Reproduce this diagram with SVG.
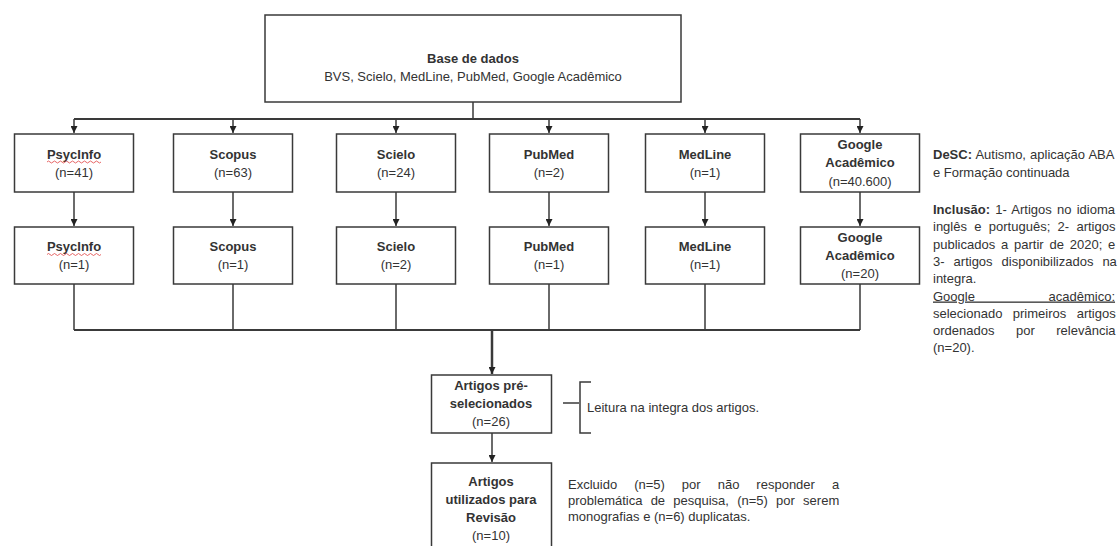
<svg xmlns="http://www.w3.org/2000/svg" width="1118" height="546" viewBox="0 0 1118 546">
<defs>
<marker id="ah" viewBox="0 0 8 8" refX="8" refY="4" markerWidth="7" markerHeight="7" markerUnits="userSpaceOnUse" orient="auto">
<path d="M0,0 L8,4 L0,8 z" fill="#222"/>
</marker>
<style>
.box{fill:#fff;stroke:#3a3a3a;stroke-width:1.5}
.ln{fill:none;stroke:#3a3a3a;stroke-width:1.5}
.t{font-family:"Liberation Sans",Arial,sans-serif;font-size:13px;fill:#333;text-anchor:middle}
.b{font-weight:bold}
.s{font-family:"Liberation Sans",Arial,sans-serif;font-size:13px;fill:#333}
.sq{fill:none;stroke:#e04040;stroke-width:0.8}
</style>
</defs>
<rect width="1118" height="546" fill="#fff"/>

<g id="connectors">
<path class="ln" d="M473,102 V119"/>
<path class="ln" d="M74,119 H860" style="stroke-width:2"/>
<path class="ln" d="M74,119 V133" marker-end="url(#ah)"/>
<path class="ln" d="M233,119 V133" marker-end="url(#ah)"/>
<path class="ln" d="M396,119 V133" marker-end="url(#ah)"/>
<path class="ln" d="M549,119 V133" marker-end="url(#ah)"/>
<path class="ln" d="M705,119 V133" marker-end="url(#ah)"/>
<path class="ln" d="M860,119 V133" marker-end="url(#ah)"/>
<path class="ln" d="M74,192 V226" marker-end="url(#ah)"/>
<path class="ln" d="M233,192 V226" marker-end="url(#ah)"/>
<path class="ln" d="M396,192 V226" marker-end="url(#ah)"/>
<path class="ln" d="M549,192 V226" marker-end="url(#ah)"/>
<path class="ln" d="M705,192 V226" marker-end="url(#ah)"/>
<path class="ln" d="M860,192 V226" marker-end="url(#ah)"/>
<path class="ln" d="M74,284 V330 M233,284 V330 M396,284 V330 M549,284 V330 M705,284 V330 M860,284 V330"/>
<path class="ln" d="M74,330 H860" style="stroke-width:2"/>
<path class="ln" d="M492,330 V374" style="stroke-width:2.5" marker-end="url(#ah)"/>
<path class="ln" d="M492,433 V462" marker-end="url(#ah)"/>
<path class="ln" d="M563,403 H579"/>
<path class="ln" d="M591,382 H580 V433 H591"/>
</g>

<g id="base">
<rect class="box" x="265" y="15" width="416" height="87"/>
<text class="t b" x="473" y="63">Base de dados</text>
<text class="t" x="473" y="81">BVS, Scielo, MedLine, PubMed, Google Acadêmico</text>
</g>

<g id="psycinfo1">
<rect class="box" x="14.5" y="134" width="119" height="58"/>
<text class="t b" x="74" y="158.5">PsycInfo</text>
<path class="sq" d="M47,162 q1.5,-2 3,0 t3,0 t3,0 t3,0 t3,0 t3,0 t3,0 t3,0 t3,0 t3,0 t3,0 t3,0 t3,0 t3,0 t3,0 t3,0 t3,0 t3,0"/>
<text class="t" x="74" y="176.5">(n=41)</text>
</g>
<g id="scopus1">
<rect class="box" x="173.5" y="134" width="119" height="58"/>
<text class="t b" x="233" y="158.5">Scopus</text>
<text class="t" x="233" y="176.5">(n=63)</text>
</g>
<g id="scielo1">
<rect class="box" x="336.5" y="134" width="119" height="58"/>
<text class="t b" x="396" y="158.5">Scielo</text>
<text class="t" x="396" y="176.5">(n=24)</text>
</g>
<g id="pubmed1">
<rect class="box" x="489.5" y="134" width="119" height="58"/>
<text class="t b" x="549" y="158.5">PubMed</text>
<text class="t" x="549" y="176.5">(n=2)</text>
</g>
<g id="medline1">
<rect class="box" x="645.5" y="134" width="119" height="58"/>
<text class="t b" x="705" y="158.5">MedLine</text>
<text class="t" x="705" y="176.5">(n=1)</text>
</g>
<g id="google1">
<rect class="box" x="800.5" y="134" width="119" height="58"/>
<text class="t b" x="860" y="149">Google</text>
<text class="t b" x="860" y="167">Acadêmico</text>
<text class="t" x="860" y="186">(n=40.600)</text>
</g>

<g id="psycinfo2">
<rect class="box" x="14.5" y="227" width="119" height="57"/>
<text class="t b" x="74" y="251">PsycInfo</text>
<path class="sq" d="M47,254.5 q1.5,-2 3,0 t3,0 t3,0 t3,0 t3,0 t3,0 t3,0 t3,0 t3,0 t3,0 t3,0 t3,0 t3,0 t3,0 t3,0 t3,0 t3,0 t3,0"/>
<text class="t" x="74" y="269">(n=1)</text>
</g>
<g id="scopus2">
<rect class="box" x="173.5" y="227" width="119" height="57"/>
<text class="t b" x="233" y="251">Scopus</text>
<text class="t" x="233" y="269">(n=1)</text>
</g>
<g id="scielo2">
<rect class="box" x="336.5" y="227" width="119" height="57"/>
<text class="t b" x="396" y="251">Scielo</text>
<text class="t" x="396" y="269">(n=2)</text>
</g>
<g id="pubmed2">
<rect class="box" x="489.5" y="227" width="119" height="57"/>
<text class="t b" x="549" y="251">PubMed</text>
<text class="t" x="549" y="269">(n=1)</text>
</g>
<g id="medline2">
<rect class="box" x="645.5" y="227" width="119" height="57"/>
<text class="t b" x="705" y="251">MedLine</text>
<text class="t" x="705" y="269">(n=1)</text>
</g>
<g id="google2">
<rect class="box" x="800.5" y="227" width="119" height="57"/>
<text class="t b" x="860" y="242">Google</text>
<text class="t b" x="860" y="260">Acadêmico</text>
<text class="t" x="860" y="278">(n=20)</text>
</g>

<g id="preselecionados">
<rect class="box" x="431.5" y="375" width="120" height="58"/>
<text class="t b" x="491" y="390">Artigos pré-</text>
<text class="t b" x="491" y="408">selecionados</text>
<text class="t" x="491" y="426">(n=26)</text>
</g>
<g id="leitura">
<text class="s" x="587" y="412">Leitura na integra dos artigos.</text>
</g>

<g id="utilizados">
<rect class="box" x="431.5" y="463" width="120" height="90"/>
<text class="t b" x="491" y="486">Artigos</text>
<text class="t b" x="491" y="504">utilizados para</text>
<text class="t b" x="491" y="522">Revisão</text>
<text class="t" x="491" y="540">(n=10)</text>
</g>
<g id="excluido">
<text class="s" x="568" y="488.5" word-spacing="13.4">Excluido (n=5) por não responder a</text>
<text class="s" x="568" y="504.5" word-spacing="4.6">problemática de pesquisa, (n=5) por serem</text>
<text class="s" x="568" y="520.5">monografias e (n=6) duplicatas.</text>
</g>

<g id="desc">
<text class="s" x="933" y="159" word-spacing="0.5"><tspan font-weight="bold">DeSC:</tspan> Autismo, aplicação ABA</text>
<text class="s" x="933" y="176.5">e Formação continuada</text>
</g>
<g id="inclusao">
<text class="s" x="933" y="214" word-spacing="1.6"><tspan font-weight="bold">Inclusão:</tspan> 1- Artigos no idioma</text>
<text class="s" x="933" y="231.3" word-spacing="3.7">inglês e português; 2- artigos</text>
<text class="s" x="933" y="248.6" word-spacing="2.2">publicados a partir de 2020; e</text>
<text class="s" x="933" y="265.9" word-spacing="5.4">3- artigos disponibilizados na</text>
<text class="s" x="933" y="283.2">integra.</text>
<text class="s" x="933" y="300.5" word-spacing="70" text-decoration="underline">Google acadêmico:</text>
<text class="s" x="933" y="317.8" word-spacing="6.8">selecionado primeiros artigos</text>
<text class="s" x="933" y="335.1" word-spacing="17.9">ordenados por relevância</text>
<text class="s" x="933" y="352.4">(n=20).</text>
</g>
</svg>
